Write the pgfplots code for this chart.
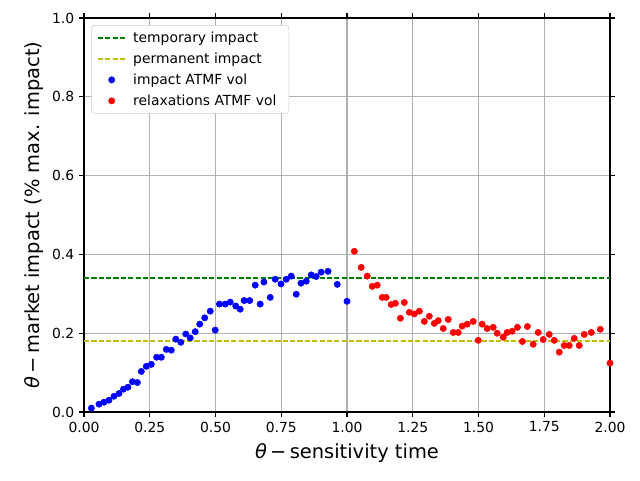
\documentclass[border=0pt]{standalone}
\usepackage{pgfplots}
\pgfplotsset{compat=1.18}
\usepackage{fontspec}
\setmainfont{DejaVu Sans}
\definecolor{mplgreen}{rgb}{0,0.5,0}
\definecolor{mplyellow}{rgb}{0.75,0.75,0}
\definecolor{gridgray}{HTML}{B0B0B0}
\begin{document}
\begin{tikzpicture}
\begin{axis}[
  scale only axis,
  width=378.7pt, height=283.7pt,
  xmin=0, xmax=2, ymin=0, ymax=1,
  xtick={0,0.25,0.5,0.75,1,1.25,1.5,1.75,2},
  ytick={0,0.2,0.4,0.6,0.8,1},
  xticklabel style={/pgf/number format/.cd,fixed,fixed zerofill,precision=2},
  yticklabel style={/pgf/number format/.cd,fixed,fixed zerofill,precision=1},
  /pgf/number format/assume math mode=true,
  tick label style={font=\fontsize{10}{12}\selectfont},
  tick align=outside,
  major tick length=3.5pt,
  tick style={line width=0.8pt, black},
  axis line style={line width=0.8pt},
  grid=major,
  major grid style={gridgray, line width=0.8pt},
  xlabel={{\itshape θ}\,−\,sensitivity time},
  ylabel={{\itshape θ}\,−\,market impact (\% max. impact)},
  label style={font=\fontsize{14}{16}\selectfont},
  xlabel style={yshift=-1.5pt},
  ylabel style={yshift=-1pt},
  legend cell align=left,
  legend style={at={(0.014,0.982)}, anchor=north west, draw=black!20, rounded corners=2pt,
    font=\fontsize{10}{12}\selectfont, row sep=2pt, inner xsep=4pt, inner ysep=2.5pt,
    nodes={inner xsep=5pt}},
  legend image code/.code={\draw[#1] (0cm,0cm) -- (0.7cm,0cm);},
]
\addplot[mplgreen, line width=1pt, dash pattern=on 3.7pt off 1.6pt] coordinates {(0,0.34) (2,0.34)};
\addlegendentry{temporary impact}
\addplot[mplyellow, line width=1pt, dash pattern=on 3.7pt off 1.6pt] coordinates {(0,0.18) (2,0.18)};
\addlegendentry{permanent impact}
\addplot[only marks, mark=*, mark size=2.25pt, blue, mark options={draw=blue, fill=blue},
  legend image code/.code={\fill[blue] (0.35cm,0cm) circle (2.25pt);}] table {
x y
0.028 0.010
0.057 0.020
0.076 0.025
0.095 0.030
0.114 0.040
0.133 0.047
0.150 0.058
0.167 0.063
0.184 0.077
0.203 0.075
0.218 0.103
0.237 0.116
0.256 0.121
0.276 0.139
0.294 0.139
0.313 0.159
0.332 0.157
0.349 0.185
0.368 0.177
0.387 0.198
0.404 0.188
0.423 0.204
0.440 0.223
0.459 0.239
0.480 0.256
0.499 0.208
0.515 0.274
0.537 0.274
0.556 0.279
0.577 0.269
0.594 0.261
0.609 0.283
0.630 0.283
0.651 0.322
0.670 0.274
0.684 0.330
0.708 0.291
0.727 0.337
0.749 0.325
0.769 0.337
0.788 0.345
0.807 0.299
0.825 0.327
0.845 0.332
0.864 0.348
0.883 0.344
0.902 0.355
0.928 0.357
0.963 0.324
1.000 0.281
};
\addlegendentry{impact ATMF vol}
\addplot[only marks, mark=*, mark size=2.25pt, red, mark options={draw=red, fill=red},
  legend image code/.code={\fill[red] (0.35cm,0cm) circle (2.25pt);}] table {
x y
1.028 0.408
1.054 0.367
1.077 0.345
1.096 0.319
1.115 0.322
1.134 0.291
1.149 0.291
1.168 0.273
1.184 0.276
1.203 0.238
1.218 0.278
1.237 0.253
1.256 0.249
1.275 0.256
1.294 0.230
1.313 0.243
1.332 0.225
1.347 0.232
1.366 0.212
1.385 0.235
1.404 0.202
1.423 0.202
1.438 0.218
1.457 0.223
1.480 0.230
1.499 0.182
1.514 0.223
1.533 0.212
1.556 0.215
1.571 0.200
1.594 0.190
1.609 0.202
1.628 0.205
1.648 0.215
1.667 0.179
1.686 0.217
1.708 0.172
1.727 0.202
1.746 0.184
1.769 0.197
1.788 0.182
1.807 0.152
1.826 0.169
1.845 0.169
1.864 0.187
1.883 0.169
1.902 0.197
1.929 0.202
1.963 0.210
2.000 0.124
};
\addlegendentry{relaxations ATMF vol}
\end{axis}
\path ([shift={(-60.48pt,-48.96pt)}]current axis.south west) rectangle ([shift={(21.6pt,12.96pt)}]current axis.north east);
\end{tikzpicture}
\end{document}
